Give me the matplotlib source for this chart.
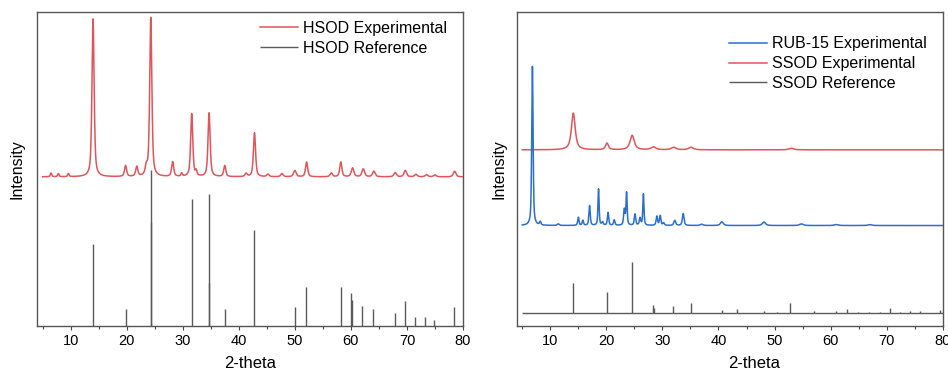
import numpy as np
import matplotlib.pyplot as plt

plt.rcParams["font.family"] = ["Liberation Sans", "DejaVu Sans"]

# ---- left panel: HSOD ----
hsod_exp_base = 47.5
hsod_exp_pos = [6.5, 7.8, 9.6, 14.0, 19.8, 21.8, 23.5, 24.3, 28.2, 29.8, 31.6, 32.4,
                34.7, 37.5, 41.3, 42.8, 45.2, 47.7, 50.0, 52.1, 56.5, 58.2, 60.3,
                62.2, 64.1, 67.9, 69.7, 71.6, 73.5, 75.0, 78.5]
hsod_exp_hgt = [1.2, 1.0, 1.0, 50.3, 3.5, 3.1, 2.5, 50.6, 4.7, 1.0, 20.0, 1.5,
                20.3, 3.5, 1.0, 14.0, 0.8, 1.0, 2.0, 4.7, 1.2, 4.7, 2.8,
                2.5, 1.8, 1.3, 2.0, 0.8, 0.7, 0.6, 1.8]
hsod_exp_fwhm = [0.3, 0.3, 0.3, 0.45, 0.45, 0.45, 0.45, 0.45, 0.45, 0.3, 0.45, 0.3,
                 0.45, 0.45, 0.45, 0.45, 0.5, 0.5, 0.55, 0.45, 0.5, 0.45, 0.55,
                 0.55, 0.55, 0.55, 0.55, 0.55, 0.55, 0.55, 0.55]

hsod_ref_pos = [14.0, 19.8, 24.3, 24.25, 31.6, 34.7, 34.65, 37.5, 42.8, 50.0, 52.0,
                58.2, 60.1, 60.2, 62.0, 63.9, 67.8, 69.6, 71.4, 73.2, 74.9, 78.4]
hsod_ref_hgt = [26.1, 5.4, 49.7, 33.0, 40.4, 42.0, 13.7, 5.4, 30.6, 6.1, 12.4,
                12.4, 10.5, 8.3, 6.4, 5.4, 4.1, 8.0, 2.9, 2.9, 1.9, 6.1]

# ---- right panel: RUB-15 / SSOD ----
rub_base = 32.0
rub_pos = [6.8, 8.2, 11.4, 15.0, 15.8, 17.0, 18.6, 19.3, 20.3, 21.4, 23.2, 23.6,
           25.1, 26.0, 26.6, 29.0, 29.6, 30.2, 32.2, 33.7, 37.0, 40.6, 48.1,
           54.8, 61.0, 67.0]
rub_hgt = [50.7, 1.1, 0.5, 2.6, 1.6, 6.3, 11.6, 1.0, 4.1, 1.7, 5.0, 10.3,
           3.6, 2.3, 10.0, 2.9, 3.1, 0.8, 1.6, 3.8, 0.4, 1.2, 1.1,
           0.5, 0.3, 0.3]
rub_fwhm = [0.28, 0.3, 0.4, 0.28, 0.28, 0.28, 0.24, 0.3, 0.28, 0.3, 0.3, 0.24,
            0.3, 0.3, 0.24, 0.3, 0.3, 0.3, 0.4, 0.35, 0.6, 0.6, 0.7,
            0.8, 0.8, 0.8]

ssod_base = 56.1
ssod_pos = [14.1, 20.1, 24.6, 28.4, 32.0, 35.1, 53.0]
ssod_hgt = [11.7, 2.1, 4.6, 0.9, 0.8, 0.8, 0.5]
ssod_fwhm = [0.8, 0.6, 0.9, 1.0, 1.0, 1.0, 1.0]

ssod_ref_base = 4.0
ssod_ref_pos = [14.1, 20.1, 24.6, 28.4, 28.55, 31.9, 35.1, 40.7, 43.3, 48.2, 50.5,
                52.8, 57.0, 61.0, 63.0, 64.9, 66.9, 68.8, 70.6, 72.4, 74.2,
                76.0, 79.6]
ssod_ref_hgt = [9.7, 6.8, 16.3, 2.6, 1.6, 2.5, 3.3, 1.1, 1.5, 0.9, 0.5,
                3.3, 0.8, 0.7, 1.4, 0.5, 0.4, 0.5, 1.7, 0.4, 0.9,
                0.8, 1.2]

RED = "#e0555a"
BLUE = "#2a6fcc"
GREY = "#5a5a5a"

tt = np.arange(5, 80.001, 0.02)


def pattern(base, pos, hgt, fwhm, eta=0.6):
    # pseudo-Voigt peaks on a flat baseline
    y = np.full_like(tt, base)
    for p, h, w in zip(pos, hgt, fwhm):
        d = (tt - p) / (w / 2)
        lor = 1 / (1 + d ** 2)
        gau = np.exp(-np.log(2) * d ** 2)
        y += h * (eta * lor + (1 - eta) * gau)
    return y


def style(ax, xlabel_x, ylabel_x):
    ax.set_xlim(4, 80)
    ax.set_ylim(0, 100)
    ax.set_yticks([])
    ax.set_xticks(np.arange(10, 81, 10))
    ax.set_xticks(np.arange(5, 80, 10), minor=True)
    ax.tick_params(axis="x", which="major", direction="out", length=3,
                   width=0.8, labelsize=10.5, pad=3, color="#444444")
    ax.tick_params(axis="x", which="minor", direction="out", length=2,
                   width=0.8, color="#444444")
    for s in ax.spines.values():
        s.set_color("#555555")
        s.set_linewidth(1.0)
    ax.set_xlabel("2-theta", fontsize=12)
    ax.xaxis.set_label_coords(xlabel_x, -0.094)
    ax.set_ylabel("Intensity", fontsize=11.5)
    ax.yaxis.set_label_coords(ylabel_x, 0.5)


fig = plt.figure(figsize=(9.48, 3.71), dpi=100)
ax1 = fig.add_axes([37 / 948, 1 - 326 / 371, 426 / 948, 314 / 371])
ax2 = fig.add_axes([516.7 / 948, 1 - 326 / 371, 426 / 948, 314 / 371])

# left
ax1.plot(tt, pattern(hsod_exp_base, hsod_exp_pos, hsod_exp_hgt, hsod_exp_fwhm),
         color=RED, lw=1.1, label="HSOD Experimental", zorder=3)
ax1.vlines(hsod_ref_pos, 0, hsod_ref_hgt, color=GREY, lw=1.0,
           label="HSOD Reference", zorder=2)
style(ax1, 0.5, -0.03)
ax1.legend(loc="upper left", bbox_to_anchor=(0.523, 0.972), frameon=False,
           fontsize=11.5, handlelength=2.4, handletextpad=0.3,
           labelspacing=0.3, borderaxespad=0, borderpad=0)

# right
ax2.plot(tt, pattern(rub_base, rub_pos, rub_hgt, rub_fwhm),
         color=BLUE, lw=1.1, label="RUB-15 Experimental", zorder=3)
ax2.plot(tt, pattern(ssod_base, ssod_pos, ssod_hgt, ssod_fwhm, eta=0.8),
         color=RED, lw=1.1, label="SSOD Experimental", zorder=2)
ax2.hlines(ssod_ref_base, 5, 80, color=GREY, lw=1.0)
ax2.vlines(ssod_ref_pos, ssod_ref_base, ssod_ref_base + np.array(ssod_ref_hgt),
           color=GREY, lw=1.0, label="SSOD Reference")
style(ax2, 0.557, -0.023)
ax2.legend(loc="upper left", bbox_to_anchor=(0.498, 0.922), frameon=False,
           fontsize=11.5, handlelength=2.4, handletextpad=0.3,
           labelspacing=0.3, borderaxespad=0, borderpad=0)

fig.savefig("out.png", dpi=100)
